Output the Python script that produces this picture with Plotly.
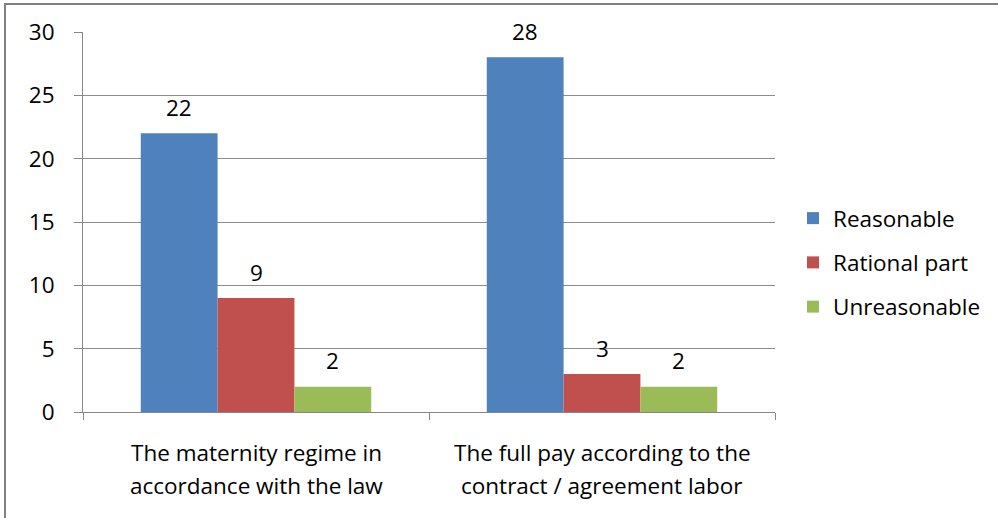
import plotly.graph_objects as go

categories = ["The maternity regime in<br>accordance with the law",
              "The full pay according to the<br>contract / agreement labor"]
series_names = ["Reasonable", "Rational part", "Unreasonable"]
reasonable = [22, 28]
rational_part = [9, 3]
unreasonable = [2, 2]
colors = ["#4F81BD", "#C0504D", "#9BBB59"]
y_ticks = [0, 5, 10, 15, 20, 25, 30]

FONT = "Open Sans"
FS = 22.5
W, H = 998, 518
L, R, T, B = 83, 223, 32, 106
pw, ph = W - L - R, H - T - B
BARGAP = 0.334
bar_px = pw / len(categories) * (1 - BARGAP) / len(series_names)

def px(x):
    return (x - L) / pw

def py(y):
    return 1 - (y - T) / ph

fig = go.Figure()
annotations = []
all_series = [reasonable, rational_part, unreasonable]
for i, (name, vals, c) in enumerate(zip(series_names, all_series, colors)):
    fig.add_trace(go.Bar(
        x=categories, y=vals, name=name, legendgroup=name,
        marker=dict(color=c, line=dict(width=0)),
    ))
    for cat, v in zip(categories, vals):
        annotations.append(dict(
            x=cat, y=v, xref="x", yref="y", text=str(v), showarrow=False,
            xanchor="center", yanchor="middle",
            xshift=(i - (len(series_names) - 1) / 2) * bar_px, yshift=26,
            font=dict(size=FS, family=FONT, color="#000000"),
        ))

# category labels, line by line
for cat in categories:
    for j, line in enumerate(cat.split("<br>")):
        annotations.append(dict(
            x=cat, y=py(452 + 33 * j), xref="x", yref="paper", text=line,
            showarrow=False, xanchor="center", yanchor="middle",
            font=dict(size=FS, family=FONT, color="#000000"),
        ))

fig.update_layout(
    width=W, height=H,
    margin=dict(l=L, r=R, t=T, b=B),
    paper_bgcolor="white", plot_bgcolor="white",
    barmode="group", bargap=BARGAP, bargroupgap=0,
    font=dict(family=FONT, size=FS, color="#000000"),
    showlegend=True,
    legend=dict(x=px(793), y=py(197), xanchor="left", yanchor="top",
                font=dict(size=FS, family=FONT), tracegroupgap=12,
                itemsizing="constant", bgcolor="rgba(0,0,0,0)"),
    xaxis=dict(showline=True, linecolor="#888888", linewidth=1,
               ticks="outside", tickson="boundaries", ticklen=7, tickcolor="#888888",
               showticklabels=False, showgrid=False),
    yaxis=dict(range=[0, 30], tickvals=y_ticks, showline=True, linecolor="#888888",
               linewidth=1, ticks="outside", ticklen=8, tickcolor="#888888",
               showgrid=True, gridcolor="#8c8c8c", gridwidth=1, zeroline=False,
               tickfont=dict(size=FS, family=FONT), ticklabelstandoff=15),
    annotations=annotations,
    shapes=[
        dict(type="line", xref="paper", yref="paper", x0=px(5), x1=px(5), y0=py(4), y1=py(530),
             line=dict(color="#808080", width=2)),
        dict(type="line", xref="paper", yref="paper", x0=px(4), x1=px(1010), y0=py(4), y1=py(4),
             line=dict(color="#808080", width=2)),
    ],
)
fig.write_html("out.html")
